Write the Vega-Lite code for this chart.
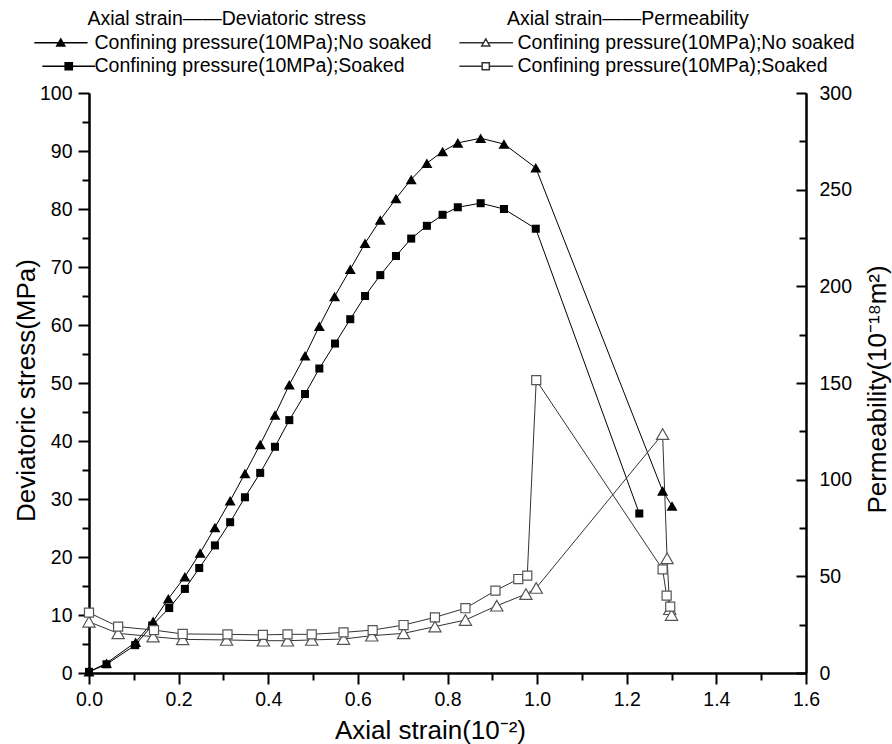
{
  "$schema": "https://vega.github.io/schema/vega-lite/v6.json",
  "width": 717,
  "height": 580,
  "autosize": {"type": "none"},
  "padding": {"left": 89, "top": 93, "right": 86, "bottom": 71},
  "background": "white",
  "config": {
    "view": {"stroke": null},
    "font": "Liberation Sans",
    "axis": {
      "grid": false,
      "domainColor": "black",
      "domainWidth": 2,
      "tickColor": "black",
      "tickWidth": 2,
      "labelColor": "black",
      "labelFont": "Liberation Sans",
      "labelFontSize": 19.5,
      "labelFlush": false,
      "labelOverlap": false,
      "titleColor": "black",
      "titleFont": "Liberation Sans",
      "titleFontSize": 26,
      "titleFontWeight": "normal"
    },
    "legend": {
      "labelFont": "Liberation Sans",
      "labelFontSize": 19.5,
      "labelColor": "black",
      "labelLimit": 500,
      "titleFont": "Liberation Sans",
      "titleFontSize": 19.5,
      "titleFontWeight": "normal",
      "titleColor": "black",
      "titleLimit": 500,
      "padding": 0,
      "rowPadding": 2.5,
      "titlePadding": 3.5,
      "symbolSize": 64
    }
  },
  "datasets": {
    "stress": [
      {"s": "Confining pressure(10MPa);No soaked", "i": 0, "x": 0.0, "y": 0.2},
      {"s": "Confining pressure(10MPa);No soaked", "i": 1, "x": 0.039, "y": 1.7},
      {"s": "Confining pressure(10MPa);No soaked", "i": 2, "x": 0.104, "y": 5.3},
      {"s": "Confining pressure(10MPa);No soaked", "i": 3, "x": 0.143, "y": 8.9},
      {"s": "Confining pressure(10MPa);No soaked", "i": 4, "x": 0.177, "y": 12.8},
      {"s": "Confining pressure(10MPa);No soaked", "i": 5, "x": 0.214, "y": 16.6},
      {"s": "Confining pressure(10MPa);No soaked", "i": 6, "x": 0.248, "y": 20.7},
      {"s": "Confining pressure(10MPa);No soaked", "i": 7, "x": 0.281, "y": 25.1},
      {"s": "Confining pressure(10MPa);No soaked", "i": 8, "x": 0.315, "y": 29.7},
      {"s": "Confining pressure(10MPa);No soaked", "i": 9, "x": 0.348, "y": 34.4},
      {"s": "Confining pressure(10MPa);No soaked", "i": 10, "x": 0.382, "y": 39.4},
      {"s": "Confining pressure(10MPa);No soaked", "i": 11, "x": 0.415, "y": 44.5},
      {"s": "Confining pressure(10MPa);No soaked", "i": 12, "x": 0.447, "y": 49.7},
      {"s": "Confining pressure(10MPa);No soaked", "i": 13, "x": 0.482, "y": 54.7},
      {"s": "Confining pressure(10MPa);No soaked", "i": 14, "x": 0.514, "y": 59.8},
      {"s": "Confining pressure(10MPa);No soaked", "i": 15, "x": 0.548, "y": 64.9},
      {"s": "Confining pressure(10MPa);No soaked", "i": 16, "x": 0.583, "y": 69.6},
      {"s": "Confining pressure(10MPa);No soaked", "i": 17, "x": 0.616, "y": 74.1},
      {"s": "Confining pressure(10MPa);No soaked", "i": 18, "x": 0.650, "y": 78.1},
      {"s": "Confining pressure(10MPa);No soaked", "i": 19, "x": 0.685, "y": 81.8},
      {"s": "Confining pressure(10MPa);No soaked", "i": 20, "x": 0.719, "y": 85.1},
      {"s": "Confining pressure(10MPa);No soaked", "i": 21, "x": 0.754, "y": 87.9},
      {"s": "Confining pressure(10MPa);No soaked", "i": 22, "x": 0.789, "y": 89.9},
      {"s": "Confining pressure(10MPa);No soaked", "i": 23, "x": 0.823, "y": 91.4},
      {"s": "Confining pressure(10MPa);No soaked", "i": 24, "x": 0.874, "y": 92.2},
      {"s": "Confining pressure(10MPa);No soaked", "i": 25, "x": 0.926, "y": 91.2},
      {"s": "Confining pressure(10MPa);No soaked", "i": 26, "x": 0.997, "y": 87.1},
      {"s": "Confining pressure(10MPa);No soaked", "i": 27, "x": 1.280, "y": 31.4},
      {"s": "Confining pressure(10MPa);No soaked", "i": 28, "x": 1.301, "y": 28.8},
      {"s": "Confining pressure(10MPa);Soaked", "i": 0, "x": 0.0, "y": 0.2},
      {"s": "Confining pressure(10MPa);Soaked", "i": 1, "x": 0.039, "y": 1.5},
      {"s": "Confining pressure(10MPa);Soaked", "i": 2, "x": 0.103, "y": 4.8},
      {"s": "Confining pressure(10MPa);Soaked", "i": 3, "x": 0.141, "y": 8.2},
      {"s": "Confining pressure(10MPa);Soaked", "i": 4, "x": 0.179, "y": 11.2},
      {"s": "Confining pressure(10MPa);Soaked", "i": 5, "x": 0.214, "y": 14.5},
      {"s": "Confining pressure(10MPa);Soaked", "i": 6, "x": 0.246, "y": 18.1},
      {"s": "Confining pressure(10MPa);Soaked", "i": 7, "x": 0.281, "y": 22.0},
      {"s": "Confining pressure(10MPa);Soaked", "i": 8, "x": 0.315, "y": 26.0},
      {"s": "Confining pressure(10MPa);Soaked", "i": 9, "x": 0.348, "y": 30.3},
      {"s": "Confining pressure(10MPa);Soaked", "i": 10, "x": 0.382, "y": 34.5},
      {"s": "Confining pressure(10MPa);Soaked", "i": 11, "x": 0.415, "y": 39.0},
      {"s": "Confining pressure(10MPa);Soaked", "i": 12, "x": 0.447, "y": 43.6},
      {"s": "Confining pressure(10MPa);Soaked", "i": 13, "x": 0.482, "y": 48.1},
      {"s": "Confining pressure(10MPa);Soaked", "i": 14, "x": 0.514, "y": 52.5},
      {"s": "Confining pressure(10MPa);Soaked", "i": 15, "x": 0.549, "y": 56.8},
      {"s": "Confining pressure(10MPa);Soaked", "i": 16, "x": 0.583, "y": 61.0},
      {"s": "Confining pressure(10MPa);Soaked", "i": 17, "x": 0.616, "y": 65.0},
      {"s": "Confining pressure(10MPa);Soaked", "i": 18, "x": 0.650, "y": 68.6},
      {"s": "Confining pressure(10MPa);Soaked", "i": 19, "x": 0.685, "y": 71.9},
      {"s": "Confining pressure(10MPa);Soaked", "i": 20, "x": 0.719, "y": 74.9},
      {"s": "Confining pressure(10MPa);Soaked", "i": 21, "x": 0.754, "y": 77.1},
      {"s": "Confining pressure(10MPa);Soaked", "i": 22, "x": 0.789, "y": 79.0},
      {"s": "Confining pressure(10MPa);Soaked", "i": 23, "x": 0.823, "y": 80.3},
      {"s": "Confining pressure(10MPa);Soaked", "i": 24, "x": 0.874, "y": 81.0},
      {"s": "Confining pressure(10MPa);Soaked", "i": 25, "x": 0.926, "y": 80.0},
      {"s": "Confining pressure(10MPa);Soaked", "i": 26, "x": 0.997, "y": 76.6},
      {"s": "Confining pressure(10MPa);Soaked", "i": 27, "x": 1.228, "y": 27.5}
    ],
    "perm": [
      {"s": "Confining pressure(10MPa);No soaked", "i": 0, "x": 0.0, "k": 26.5},
      {"s": "Confining pressure(10MPa);No soaked", "i": 1, "x": 0.065, "k": 20.5},
      {"s": "Confining pressure(10MPa);No soaked", "i": 2, "x": 0.143, "k": 18.8},
      {"s": "Confining pressure(10MPa);No soaked", "i": 3, "x": 0.209, "k": 17.4},
      {"s": "Confining pressure(10MPa);No soaked", "i": 4, "x": 0.307, "k": 17.1},
      {"s": "Confining pressure(10MPa);No soaked", "i": 5, "x": 0.389, "k": 16.7},
      {"s": "Confining pressure(10MPa);No soaked", "i": 6, "x": 0.443, "k": 16.7},
      {"s": "Confining pressure(10MPa);No soaked", "i": 7, "x": 0.497, "k": 17.1},
      {"s": "Confining pressure(10MPa);No soaked", "i": 8, "x": 0.568, "k": 17.6},
      {"s": "Confining pressure(10MPa);No soaked", "i": 9, "x": 0.631, "k": 19.3},
      {"s": "Confining pressure(10MPa);No soaked", "i": 10, "x": 0.702, "k": 20.5},
      {"s": "Confining pressure(10MPa);No soaked", "i": 11, "x": 0.772, "k": 24.0},
      {"s": "Confining pressure(10MPa);No soaked", "i": 12, "x": 0.840, "k": 27.4},
      {"s": "Confining pressure(10MPa);No soaked", "i": 13, "x": 0.910, "k": 34.8},
      {"s": "Confining pressure(10MPa);No soaked", "i": 14, "x": 0.975, "k": 40.8},
      {"s": "Confining pressure(10MPa);No soaked", "i": 15, "x": 0.998, "k": 44.0},
      {"s": "Confining pressure(10MPa);No soaked", "i": 16, "x": 1.280, "k": 123.6},
      {"s": "Confining pressure(10MPa);No soaked", "i": 17, "x": 1.290, "k": 59.3},
      {"s": "Confining pressure(10MPa);No soaked", "i": 18, "x": 1.296, "k": 33.0},
      {"s": "Confining pressure(10MPa);No soaked", "i": 19, "x": 1.300, "k": 30.0},
      {"s": "Confining pressure(10MPa);Soaked", "i": 0, "x": 0.0, "k": 31.2},
      {"s": "Confining pressure(10MPa);Soaked", "i": 1, "x": 0.065, "k": 24.0},
      {"s": "Confining pressure(10MPa);Soaked", "i": 2, "x": 0.145, "k": 22.2},
      {"s": "Confining pressure(10MPa);Soaked", "i": 3, "x": 0.209, "k": 20.2},
      {"s": "Confining pressure(10MPa);Soaked", "i": 4, "x": 0.309, "k": 20.0},
      {"s": "Confining pressure(10MPa);Soaked", "i": 5, "x": 0.388, "k": 19.7},
      {"s": "Confining pressure(10MPa);Soaked", "i": 6, "x": 0.443, "k": 20.0},
      {"s": "Confining pressure(10MPa);Soaked", "i": 7, "x": 0.497, "k": 20.0},
      {"s": "Confining pressure(10MPa);Soaked", "i": 8, "x": 0.568, "k": 21.0},
      {"s": "Confining pressure(10MPa);Soaked", "i": 9, "x": 0.633, "k": 22.2},
      {"s": "Confining pressure(10MPa);Soaked", "i": 10, "x": 0.702, "k": 24.8},
      {"s": "Confining pressure(10MPa);Soaked", "i": 11, "x": 0.772, "k": 28.8},
      {"s": "Confining pressure(10MPa);Soaked", "i": 12, "x": 0.840, "k": 33.5},
      {"s": "Confining pressure(10MPa);Soaked", "i": 13, "x": 0.907, "k": 42.6},
      {"s": "Confining pressure(10MPa);Soaked", "i": 14, "x": 0.958, "k": 48.6},
      {"s": "Confining pressure(10MPa);Soaked", "i": 15, "x": 0.978, "k": 50.4},
      {"s": "Confining pressure(10MPa);Soaked", "i": 16, "x": 0.998, "k": 151.5},
      {"s": "Confining pressure(10MPa);Soaked", "i": 17, "x": 1.280, "k": 53.6},
      {"s": "Confining pressure(10MPa);Soaked", "i": 18, "x": 1.289, "k": 40.0},
      {"s": "Confining pressure(10MPa);Soaked", "i": 19, "x": 1.297, "k": 34.3}
    ]
  },
  "layer": [
    {
      "data": {"name": "stress"},
      "mark": {"type": "line", "color": "black", "strokeWidth": 1},
      "encoding": {
        "x": {"field": "x", "type": "quantitative", "scale": {"domain": [0, 1.6], "nice": false, "zero": false},
              "axis": {"orient": "bottom", "values": [0.1, 0.3, 0.5, 0.7, 0.9, 1.1, 1.3, 1.5], "labels": false, "title": null, "tickSize": 7}},
        "y": {"field": "y", "type": "quantitative", "scale": {"domain": [0, 100], "nice": false},
              "axis": {"orient": "left", "values": [5, 15, 25, 35, 45, 55, 65, 75, 85, 95], "labels": false, "title": null, "tickSize": 7}},
        "detail": {"field": "s"},
        "order": {"field": "i"}
      }
    },
    {
      "data": {"name": "perm"},
      "mark": {"type": "line", "color": "#333333", "strokeWidth": 1},
      "encoding": {
        "x": {"field": "x", "type": "quantitative", "scale": {"domain": [0, 1.6], "nice": false, "zero": false}, "axis": null},
        "y": {"field": "k", "type": "quantitative", "scale": {"domain": [0, 300], "nice": false},
              "axis": {"orient": "right", "values": [25, 75, 125, 175, 225, 275], "labels": false, "title": null, "tickSize": -7}},
        "detail": {"field": "s"},
        "order": {"field": "i"}
      }
    },
    {
      "data": {"name": "stress"},
      "mark": {"type": "point", "filled": true, "color": "black", "opacity": 1, "size": 121},
      "encoding": {
        "x": {"field": "x", "type": "quantitative", "scale": {"domain": [0, 1.6], "nice": false, "zero": false},
              "axis": {"orient": "bottom", "values": [0, 0.2, 0.4, 0.6, 0.8, 1.0, 1.2, 1.4, 1.6], "format": ".1f", "tickSize": 11, "labelPadding": 6,
                       "title": "Axial strain(10⁻²)", "titleX": 341, "titleY": 65, "titleBaseline": "alphabetic", "titleAlign": "center"}},
        "y": {"field": "y", "type": "quantitative", "scale": {"domain": [0, 100], "nice": false},
              "axis": {"orient": "left", "values": [0, 10, 20, 30, 40, 50, 60, 70, 80, 90, 100], "tickSize": 11, "labelPadding": 6,
                       "title": "Deviatoric stress(MPa)", "titleAngle": 270, "titleX": -63, "titleY": 297, "titleBaseline": "middle", "titleAlign": "center"}},
        "shape": {"field": "s", "type": "nominal",
                  "scale": {"domain": ["Confining pressure(10MPa);No soaked", "Confining pressure(10MPa);Soaked"], "range": ["triangle-up", "M-0.73,-0.73H0.73V0.73H-0.73Z"]},
                  "legend": null}
      }
    },
    {
      "data": {"name": "perm"},
      "mark": {"type": "point", "filled": true, "fill": "white", "stroke": "#555555", "strokeWidth": 1.2, "opacity": 1, "size": 150},
      "encoding": {
        "x": {"field": "x", "type": "quantitative", "scale": {"domain": [0, 1.6], "nice": false, "zero": false}, "axis": null},
        "y": {"field": "k", "type": "quantitative", "scale": {"domain": [0, 300], "nice": false},
              "axis": {"orient": "right", "values": [0, 50, 100, 150, 200, 250, 300], "tickSize": -10, "labelPadding": 23,
                       "title": "Permeability(10⁻¹⁸m²)", "titleAngle": 270, "titleX": 71, "titleY": 296, "titleBaseline": "middle", "titleAlign": "center"}},
        "shape": {"field": "s", "type": "nominal",
                  "scale": {"domain": ["Confining pressure(10MPa);No soaked", "Confining pressure(10MPa);Soaked"], "range": ["triangle-up", "M-0.74,-0.74H0.74V0.74H-0.74Z"]},
                  "legend": null}
      }
    },
    {
      "data": {"name": "stress"},
      "transform": [{"filter": "false"}],
      "mark": {"type": "point", "filled": true, "color": "black", "fill": "black", "stroke": "black", "strokeWidth": 1.3, "opacity": 1},
      "encoding": {
        "shape": {"field": "s", "type": "nominal",
                  "scale": {"domain": ["Confining pressure(10MPa);No soaked", "Confining pressure(10MPa);Soaked"],
                            "range": ["M-6.6,0H-0.5M0.5,0H6.7M0,-0.95L1,0.8L-1,0.8Z", "M-4.6,0H1.1M2.9,0H8.6M1.1,-0.9H2.9V0.9H1.1Z"]},
                  "legend": {"title": "\u200b\u00a0\u00a0\u00a0\u00a0\u00a0\u00a0\u2009Axial strain——Deviatoric stress", "orient": "none", "legendX": -38, "legendY": -83,
                             "titleAnchor": "start", "labelOffset": 24}}
      }
    },
    {
      "data": {"name": "perm"},
      "transform": [{"filter": "false"}],
      "mark": {"type": "point", "filled": true, "fill": "white", "stroke": "#333333", "strokeWidth": 1, "opacity": 1},
      "encoding": {
        "shape": {"field": "s", "type": "nominal",
                  "scale": {"domain": ["Confining pressure(10MPa);No soaked", "Confining pressure(10MPa);Soaked"],
                            "range": ["M-6.6,0H-0.5M0.5,0H6.8M0,-0.95L1,0.8L-1,0.8Z", "M-6.6,0H-0.9M0.9,0H6.8M-0.9,-0.9H0.9V0.9H-0.9Z"]},
                  "legend": {"title": "\u200b\u00a0\u00a0\u00a0\u00a0\u00a0\u2009Axial strain——Permeability", "orient": "none", "legendX": 387, "legendY": -83,
                             "titleAnchor": "start", "labelOffset": 22}}
      }
    }
  ],
  "resolve": {
    "scale": {"x": "independent", "y": "independent", "shape": "independent"},
    "axis": {"x": "independent", "y": "independent"},
    "legend": {"shape": "independent"}
  }
}
